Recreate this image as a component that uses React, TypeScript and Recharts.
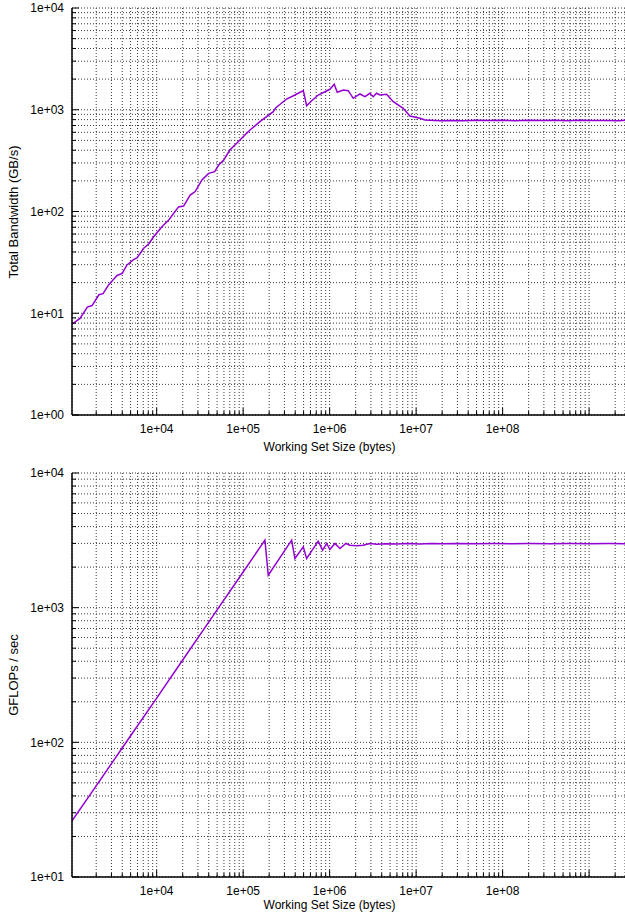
import React from 'react';
import { LineChart, Line, XAxis, YAxis, CartesianGrid } from 'recharts';

const FONT = '"Liberation Sans", Arial, Helvetica, sans-serif';
const LINE_COLOR = '#9400d3';

// Top panel: total bandwidth (GB/s) vs working set size (bytes)
const bwSizes = [
  1050, 1300, 1580, 1790, 2150, 2400, 2740, 3480, 4000, 4540, 5400, 5920, 7080, 8090, 9230,
  11500, 13800, 17900, 20500, 24400, 27900, 33400, 39900, 46900, 52100, 59600, 70300, 91800,
  120000, 156000, 223000, 239000, 318000, 397000, 496000, 542000, 619000, 738000, 883000,
  1007000, 1130000, 1224000, 1437000, 1641000, 1875000, 2240000, 2560000, 2920000, 3190000,
  3490000, 3820000, 4560000, 5440000, 7090000, 8480000, 11060000, 12640000, 18840000,
  25000000, 35000000, 50000000, 70000000, 100000000, 140000000, 200000000, 280000000,
  400000000, 560000000, 800000000, 1100000000, 1600000000, 2200000000, 2600000000,
];
const bwValues = [
  7.8, 8.9, 11.5, 11.9, 15.2, 15.6, 18.7, 23.5, 24.6, 29.8, 33.7, 34.9, 43.5, 47.9, 56.5,
  70.9, 82.5, 111, 113, 145, 157, 204, 237, 246, 286, 321, 402, 505,
  632, 763, 957, 1047, 1275, 1396, 1539, 1096, 1227, 1396, 1504,
  1589, 1779, 1484, 1565, 1539, 1296, 1429, 1344, 1452, 1344,
  1452, 1396, 1419, 1200, 1033, 868, 824, 793, 779,
  785, 780, 790, 782, 788, 780, 790, 783,
  787, 780, 789, 782, 786, 781, 787,
];

// Bottom panel: GFLOPs / sec vs working set size (bytes)
const flopSizes = [
  1050, 2000, 5000, 10000, 20000, 50000, 100000, 178600, 195000, 363700, 397000, 495500,
  542000, 738000, 829000, 923000, 1007000, 1151000, 1315000, 1543000, 1717000, 2051000,
  2430000, 2920000, 3500000, 4500000, 6000000, 8000000, 11000000, 15000000, 20000000,
  30000000, 50000000, 80000000, 130000000, 200000000, 350000000, 600000000, 1000000000,
  1700000000, 2600000000,
];
const flopValues = [
  26.1, 47.5, 112, 213, 409, 962, 1840, 3170, 1741, 3170, 2317, 2827,
  2317, 3117, 2672, 2997, 2703, 2997, 2750, 2997, 2910, 2880,
  2910, 2997, 2960, 2985, 2970, 2990, 2975, 2990, 2980,
  2995, 2985, 2990, 2985, 2990, 2985, 2990, 2988,
  2990, 2988,
];

const mantissas = [1, 2, 3, 4, 5, 6, 7, 8, 9];
const xDecades = [1e3, 1e4, 1e5, 1e6, 1e7, 1e8, 1e9];
const bwDecades = [1, 10, 100, 1000];
const flopDecades = [10, 100, 1000];

const X_DOMAIN: [number, number] = [1050, 2.6e9];
const BW_DOMAIN: [number, number] = [1, 10000];
const FLOP_DOMAIN: [number, number] = [10, 10000];

const xLabels: Record<string, string> = {
  '10000': '1e+04',
  '100000': '1e+05',
  '1000000': '1e+06',
  '10000000': '1e+07',
  '100000000': '1e+08',
};
const yLabels: Record<string, string> = {
  '1': '1e+00',
  '10': '1e+01',
  '100': '1e+02',
  '1000': '1e+03',
  '10000': '1e+04',
};

const buildTicks = (decades: number[], lo: number, hi: number) => {
  const out: number[] = [];
  decades.forEach((d) => mantissas.forEach((m) => out.push(Math.round(d * m))));
  out.push(Math.round(decades[decades.length - 1] * 10));
  return out.filter((v) => v >= lo && v <= hi);
};

const xTicks = buildTicks(xDecades, X_DOMAIN[0], X_DOMAIN[1]);
const bwTicks = buildTicks(bwDecades, BW_DOMAIN[0], BW_DOMAIN[1]);
const flopTicks = buildTicks(flopDecades, FLOP_DOMAIN[0], FLOP_DOMAIN[1]);

const bwData = bwSizes.map((s, i) => ({ size: s, v: bwValues[i] }));
const flopData = flopSizes.map((s, i) => ({ size: s, v: flopValues[i] }));

const isMajor = (v: number) => {
  const l = Math.log10(v);
  return Math.abs(l - Math.round(l)) < 1e-9;
};

const BottomTick = (props: any) => {
  const { x, y, payload } = props;
  const v = payload.value;
  const len = isMajor(v) ? 7 : 4;
  const label = xLabels[String(v)];
  return (
    <g>
      <line x1={x} x2={x} y1={y} y2={y - len} stroke="#000" strokeWidth={1} />
      {label ? (
        <text x={x} y={y + 18} textAnchor="middle" fontFamily={FONT} fontSize={12} fill="#000">
          {label}
        </text>
      ) : null}
    </g>
  );
};

const TopTick = (props: any) => {
  const { x, y, payload } = props;
  const len = isMajor(payload.value) ? 7 : 4;
  return <line x1={x} x2={x} y1={y} y2={y + len} stroke="#000" strokeWidth={1} />;
};

const LeftTick = (props: any) => {
  const { x, y, payload } = props;
  const v = payload.value;
  const len = isMajor(v) ? 7 : 4;
  const label = yLabels[String(v)];
  return (
    <g>
      <line x1={x} x2={x + len} y1={y} y2={y} stroke="#000" strokeWidth={1} />
      {label ? (
        <text x={x - 8} y={y + 4.3} textAnchor="end" fontFamily={FONT} fontSize={12} fill="#000">
          {label}
        </text>
      ) : null}
    </g>
  );
};

const titleStyle: React.CSSProperties = {
  position: 'absolute',
  fontFamily: FONT,
  fontSize: 12,
  lineHeight: '14px',
  color: '#000',
  whiteSpace: 'nowrap',
};

type PanelProps = {
  data: { size: number; v: number }[];
  yDomain: [number, number];
  yTicks: number[];
  width: number;
  height: number;
  top: number;
  xAxisHeight: number;
};

const Panel = ({ data, yDomain, yTicks, width, height, top, xAxisHeight }: PanelProps) => (
  <LineChart width={width} height={height} data={data} margin={{ top, right: 0, bottom: 0, left: 0 }}>
    <CartesianGrid stroke="#3a3a3a" strokeDasharray="1 2" strokeWidth={1} />
    <XAxis
      dataKey="size"
      type="number"
      scale="log"
      domain={X_DOMAIN}
      allowDataOverflow
      ticks={xTicks}
      interval={0}
      tickSize={0}
      tickMargin={0}
      tickLine={false}
      height={xAxisHeight}
      axisLine={{ stroke: '#000', strokeWidth: 1.5 }}
      tick={BottomTick}
    />
    <XAxis
      xAxisId="top"
      orientation="top"
      dataKey="size"
      type="number"
      scale="log"
      domain={X_DOMAIN}
      allowDataOverflow
      ticks={xTicks}
      interval={0}
      tickSize={0}
      tickMargin={0}
      tickLine={false}
      height={0}
      axisLine={{ stroke: '#000', strokeWidth: 1.5 }}
      tick={TopTick}
    />
    <YAxis
      type="number"
      scale="log"
      domain={yDomain}
      allowDataOverflow
      ticks={yTicks}
      interval={0}
      tickSize={0}
      tickMargin={0}
      tickLine={false}
      width={72}
      axisLine={{ stroke: '#000', strokeWidth: 1.5 }}
      tick={LeftTick}
    />
    <Line
      type="linear"
      dataKey="v"
      stroke={LINE_COLOR}
      strokeWidth={1.5}
      dot={false}
      isAnimationActive={false}
    />
  </LineChart>
);

export default function App() {
  return (
    <div style={{ position: 'absolute', left: 0, top: 0, width: 625, height: 921, overflow: 'hidden', background: '#fff' }}>
      <div style={{ position: 'absolute', left: 0, top: 0 }}>
        <Panel data={bwData} yDomain={BW_DOMAIN} yTicks={bwTicks} width={625} height={460} top={8} xAxisHeight={45} />
      </div>
      <div style={{ position: 'absolute', left: 0, top: 460 }}>
        <Panel data={flopData} yDomain={FLOP_DOMAIN} yTicks={flopTicks} width={625} height={461} top={13} xAxisHeight={44} />
      </div>
      <div style={{ ...titleStyle, left: 329.5, top: 446.5, transform: 'translate(-50%, -50%)' }}>
        Working Set Size (bytes)
      </div>
      <div style={{ ...titleStyle, left: 329.5, top: 905, transform: 'translate(-50%, -50%)' }}>
        Working Set Size (bytes)
      </div>
      <div style={{ ...titleStyle, fontSize: 13, left: 13.5, top: 211.5, transform: 'translate(-50%, -50%) rotate(-90deg)' }}>
        Total Bandwidth (GB/s)
      </div>
      <div style={{ ...titleStyle, fontSize: 13, left: 13.5, top: 675, transform: 'translate(-50%, -50%) rotate(-90deg)' }}>
        GFLOPs / sec
      </div>
    </div>
  );
}
